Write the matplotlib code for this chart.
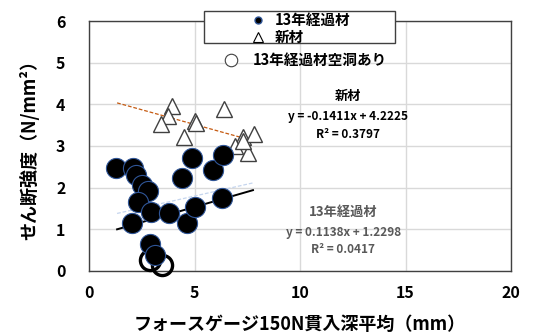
import numpy as np
import matplotlib
matplotlib.use('Agg')
from matplotlib import pyplot as plt
from matplotlib.lines import Line2D
from matplotlib.patches import Rectangle

plt.rcParams['font.family'] = ['Noto Sans CJK JP', 'DejaVu Sans']
plt.rcParams['font.weight'] = 'bold'

# 13-year aged material (filled circles)
old_x = [1.27, 2.07, 2.23, 2.50, 2.81, 2.34, 2.92, 2.02, 3.81, 4.63,
         5.02, 6.32, 4.39, 4.90, 5.89, 6.34, 2.89, 3.13]
old_y = [2.46, 2.48, 2.30, 2.06, 1.91, 1.66, 1.42, 1.16, 1.38, 1.14,
         1.54, 1.74, 2.22, 2.72, 2.43, 2.78, 0.64, 0.38]

# 13-year aged material with cavities (open circles)
void_x = [2.89, 3.44]
void_y = [0.26, 0.14]

# new material (open triangles)
new_x = [3.92, 3.76, 3.41, 5.02, 5.07, 4.50, 6.40, 7.31, 7.82, 6.92, 7.52, 7.31]
new_y = [3.95, 3.73, 3.52, 3.61, 3.54, 3.21, 3.89, 3.21, 3.29, 3.01, 2.82, 3.13]

# fitted trend lines
trend_x = np.array([1.33, 7.75])
new_fit = (-0.1411, 4.2225)
old_fit = (0.1138, 1.2298)
all_old_x = [1.33, 7.77]
all_old_y = [1.00, 1.94]


def main():
    fig = plt.figure(figsize=(5.34, 3.36), dpi=100)
    ax = fig.add_axes([0.1667, 0.1935, 0.7903, 0.744])

    ax.set_xlim(0, 20)
    ax.set_ylim(0, 6)
    ax.set_xticks([0, 5, 10, 15, 20])
    ax.set_yticks(range(7))
    ax.grid(True, color='#d9d9d9', linewidth=1)
    ax.set_axisbelow(True)
    ax.tick_params(length=0, labelsize=11.5)
    ax.tick_params(axis='x', pad=10)
    ax.tick_params(axis='y', pad=17)
    for lab in ax.get_xticklabels() + ax.get_yticklabels():
        lab.set_fontweight('bold')
    for sp in ax.spines.values():
        sp.set_color('#404040')
        sp.set_linewidth(1)

    ax.plot(trend_x, new_fit[0] * trend_x + new_fit[1], '--', color='#c55a11',
            lw=0.9, dashes=(3, 1.5), zorder=2)
    ax.plot(trend_x, old_fit[0] * trend_x + old_fit[1], '--', color='#c5d5ee',
            lw=0.9, dashes=(3, 1.5), zorder=2)
    ax.plot(all_old_x, all_old_y, '-', color='black', lw=1.4, zorder=2)

    ax.plot(new_x, new_y, '^', ms=11, mfc='white', mec='#404040', mew=1.0,
            ls='none', zorder=3)
    ax.plot(void_x, void_y, 'o', ms=14.5, mfc='none', mec='black', mew=2.4,
            ls='none', zorder=3, clip_on=False)
    ax.plot(old_x, old_y, 'o', ms=14.5, mfc='black', mec='#2f5597', mew=0.8,
            ls='none', zorder=4)

    # boxed legend: frame drawn separately so the entries can sit inset
    box = Rectangle((0.272, 0.912), 0.453, 0.128, transform=ax.transAxes,
                    facecolor='white', edgecolor='#404040', lw=1,
                    clip_on=False, zorder=5)
    ax.add_patch(box)
    h1 = Line2D([], [], marker='o', ms=5, mfc='black', mec='#2f5597',
                ls='none')
    h2 = Line2D([], [], marker='^', ms=6.5, mfc='white', mec='black',
                mew=0.8, ls='none')
    leg = ax.legend([h1, h2], ['13年経過材', '新材'], loc='upper left',
                    bbox_to_anchor=(0.384, 1.036), frameon=False,
                    borderaxespad=0, borderpad=0, handlelength=0.9,
                    handletextpad=0.75, labelspacing=0.05,
                    prop={'size': 10.5, 'weight': 'bold'})
    leg.set_zorder(6)
    ax.add_artist(leg)

    h3 = Line2D([], [], marker='o', ms=9, mfc='white', mec='#404040',
                mew=0.8, ls='none')
    leg2 = ax.legend([h3], ['13年経過材空洞あり'], loc='center left',
                     bbox_to_anchor=(0.318, 0.843), frameon=False,
                     borderaxespad=0, handlelength=1.0, handletextpad=1.0,
                     borderpad=0, prop={'size': 10.5, 'weight': 'bold'})
    leg2.set_zorder(6)

    ax.text(0.613, 0.70, '新材', transform=ax.transAxes, ha='center',
            va='center', fontsize=9.5, fontweight='bold', color='black')
    ax.text(0.613, 0.616, 'y = -0.1411x + 4.2225', transform=ax.transAxes,
            ha='center', va='center', fontsize=8.5, fontweight='bold',
            color='black')
    ax.text(0.613, 0.544, 'R² = 0.3797', transform=ax.transAxes,
            ha='center', va='center', fontsize=8.5, fontweight='bold',
            color='black')

    ax.text(0.602, 0.236, '13年経過材', transform=ax.transAxes, ha='center',
            va='center', fontsize=9.5, fontweight='bold', color='#595959')
    ax.text(0.602, 0.152, 'y = 0.1138x + 1.2298', transform=ax.transAxes,
            ha='center', va='center', fontsize=8.5, fontweight='bold',
            color='#595959')
    ax.text(0.602, 0.084, 'R² = 0.0417', transform=ax.transAxes,
            ha='center', va='center', fontsize=8.5, fontweight='bold',
            color='#595959')

    ax.set_xlabel('フォースゲージ150N貫入深平均（mm）', fontsize=13,
                  fontweight='bold', labelpad=10)
    ax.set_ylabel('せん断強度（N/mm²）', fontsize=13, fontweight='bold',
                  labelpad=12)

    fig.savefig('out.png', dpi=100)


if __name__ == '__main__':
    main()
